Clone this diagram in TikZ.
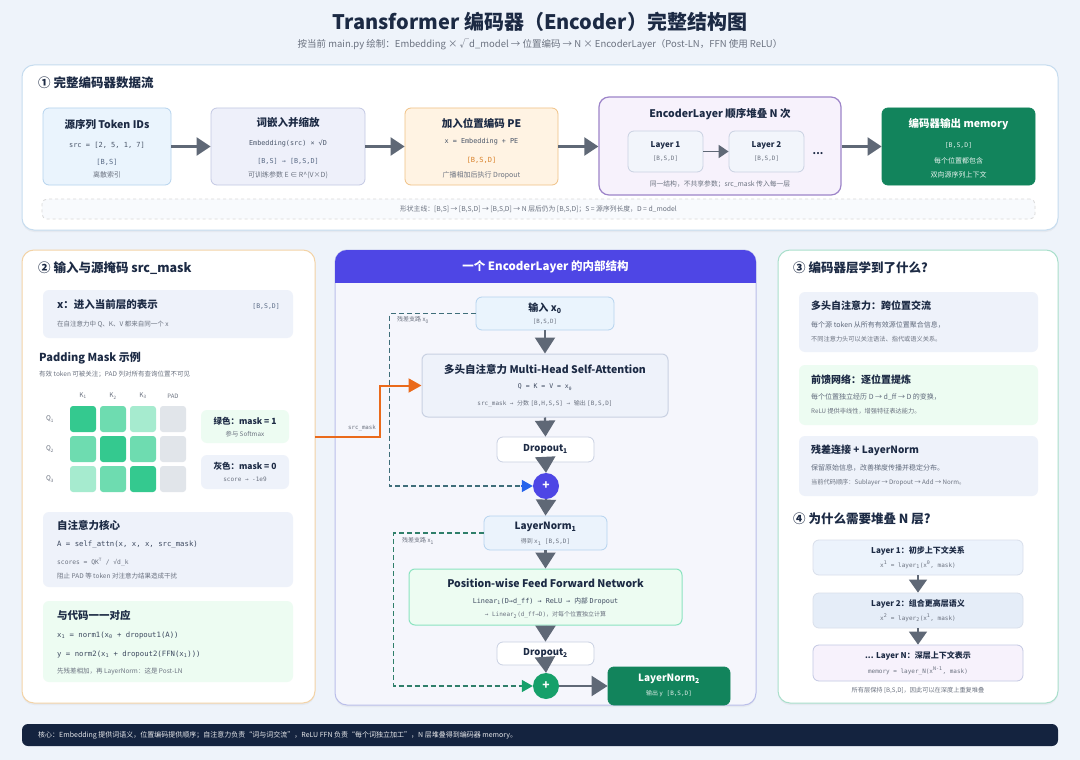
\documentclass[tikz,border=0pt]{standalone}
\usepackage{fontspec}
\setmainfont{Noto Sans CJK SC}
\setmonofont{DejaVu Sans Mono}
\usetikzlibrary{arrows.meta,shadows}
\definecolor{bg}{HTML}{EEF3FA}
\definecolor{navy}{HTML}{1C2A44}
\definecolor{tgray}{HTML}{6B7280}
\definecolor{agray}{HTML}{5F6876}
\definecolor{p1bd}{HTML}{C6DCEF}
\definecolor{b1f}{HTML}{EAF4FD}\definecolor{b1d}{HTML}{B5D3EE}
\definecolor{b2f}{HTML}{EEF0FA}\definecolor{b2d}{HTML}{C3C8E3}
\definecolor{b3f}{HTML}{FFF3E3}\definecolor{b3d}{HTML}{F0C185}
\definecolor{b4f}{HTML}{F7F2FC}\definecolor{b4d}{HTML}{9D84C9}
\definecolor{lyf}{HTML}{F2F5FB}\definecolor{lyd}{HTML}{C9D1E2}
\definecolor{gdark}{HTML}{12845C}
\definecolor{lpbd}{HTML}{F3D3A6}
\definecolor{rpbd}{HTML}{A9DFCB}
\definecolor{indigo}{HTML}{4E46E5}
\definecolor{orng}{HTML}{EA6A1B}
\definecolor{cbf}{HTML}{EEF2FA}
\definecolor{cgf}{HTML}{EDFCF2}
\definecolor{gd}{HTML}{34C98F}\definecolor{gm}{HTML}{6EDCB0}\definecolor{gl}{HTML}{A6EBCF}\definecolor{gg}{HTML}{E1E5EA}
\definecolor{cpf}{HTML}{F5F6FC}\definecolor{cpd}{HTML}{BABEEA}
\definecolor{res1}{HTML}{3F6E7A}\definecolor{res2}{HTML}{2F7F6A}
\definecolor{blu}{HTML}{2563EB}\definecolor{grn}{HTML}{16A06A}
\definecolor{orgtx}{HTML}{D9822B}
\definecolor{monob}{HTML}{5A6B86}
\definecolor{foot}{HTML}{14233F}
\newcommand{\fsz}[1]{\fontsize{#1}{#1}\selectfont}
\newcommand{\dn}[1]{\textsubscript{#1}}
\newcommand{\up}[1]{\textsuperscript{#1}}
\begin{document}
\begin{tikzpicture}[x=1pt,y=-1pt,
  box/.style={rounded corners=6pt, line width=0.8pt, inner sep=0pt},
  panel/.style={rounded corners=12pt, line width=1pt, fill=white, inner sep=0pt,
     drop shadow={shadow xshift=0pt,shadow yshift=-2pt,opacity=0.08}},
  tx/.style={inner sep=0pt, anchor=center, text=navy},
  arr/.style={draw=agray, line width=2.2pt, -{Triangle[length=14pt,width=18pt]}},
  varr/.style={draw=agray, line width=2.2pt, -{Triangle[length=16pt,width=20pt]}},
  sarr/.style={draw=agray, line width=1.8pt, -{Triangle[length=10pt,width=13pt]}},
  cell/.style={rounded corners=3pt, minimum size=26pt, inner sep=0pt},
]
\fill[bg] (0,0) rectangle (1080,760);
\useasboundingbox (0,0) rectangle (1080,760);

% ---------- title ----------
\node[tx, font=\fsz{20}\bfseries] (title) at (540,22) {Transformer 编码器（Encoder）完整结构图};
\node[tx, text=tgray, font=\fsz{9.5}] (subtitle) at (540,45) {按当前 main.py 绘制：Embedding × √d\_model → 位置编码 → N × EncoderLayer（Post-LN，FFN 使用 ReLU）};

% ---------- section 1 ----------
\node[panel, draw=p1bd, minimum width=1036pt, minimum height=165pt] (p1) at (540,147.5) {};
\node[tx, anchor=west, font=\fsz{12.5}\bfseries] (p1t) at (38,83) {① 完整编码器数据流};

\node[box, fill=b1f, draw=b1d, minimum width=128pt, minimum height=77pt] (b1) at (107,146.5) {};
\node[tx, font=\fsz{10.5}\bfseries] (b1t) at (107,125) {源序列 Token IDs};
\node[tx, font=\fsz{7}\ttfamily, text=navy!80] (b1a) at (107,145) {src = [2, 5, 1, 7]};
\node[tx, font=\fsz{7}\ttfamily, text=monob] (b1b) at (107,162) {[B,S]};
\node[tx, font=\fsz{7}, text=tgray] (b1c) at (107,175) {离散索引};

\node[box, fill=b2f, draw=b2d, minimum width=154pt, minimum height=77pt] (b2) at (288,146.5) {};
\node[tx, font=\fsz{10.5}\bfseries] (b2t) at (288,123) {词嵌入并缩放};
\node[tx, font=\fsz{6.8}\ttfamily, text=navy!80] (b2a) at (288,143) {Embedding(src) × √D};
\node[tx, font=\fsz{6.8}\ttfamily, text=monob] (b2b) at (288,161) {[B,S] → [B,S,D]};
\node[tx, font=\fsz{7}, text=tgray] (b2c) at (288,175) {可训练参数 E ∈ R\^{}(V×D)};

\node[box, fill=b3f, draw=b3d, minimum width=153pt, minimum height=77pt] (b3) at (481.5,146.5) {};
\node[tx, font=\fsz{10.5}\bfseries] (b3t) at (481.5,123) {加入位置编码 PE};
\node[tx, font=\fsz{6.8}\ttfamily, text=navy!80] (b3a) at (481.5,142) {x = Embedding + PE};
\node[tx, font=\fsz{7}\ttfamily, text=orgtx] (b3b) at (481.5,160) {[B,S,D]};
\node[tx, font=\fsz{7}, text=tgray] (b3c) at (481.5,175) {广播相加后执行 Dropout};

\node[box, rounded corners=10pt, fill=b4f, draw=b4d, line width=1.2pt, minimum width=242pt, minimum height=98pt] (b4) at (720,146) {};
\node[tx, font=\fsz{10.5}\bfseries] (b4t) at (720,114) {EncoderLayer 顺序堆叠 N 次};
\node[box, fill=lyf, draw=lyd, minimum width=75pt, minimum height=41pt] (l1) at (665.5,151.5) {};
\node[tx, font=\fsz{8}\bfseries] (l1t) at (665.5,145) {Layer 1};
\node[tx, font=\fsz{6}\ttfamily, text=tgray] (l1a) at (665.5,159) {[B,S,D]};
\node[box, fill=lyf, draw=lyd, minimum width=75pt, minimum height=41pt] (l2) at (766.5,151.5) {};
\node[tx, font=\fsz{8}\bfseries] (l2t) at (766.5,145) {Layer 2};
\node[tx, font=\fsz{6}\ttfamily, text=tgray] (l2a) at (766.5,159) {[B,S,D]};
\node[tx, font=\fsz{10}\bfseries] (dots) at (818,154) {...};
\node[tx, font=\fsz{6.8}, text=tgray] (b4c) at (720,184) {同一结构，不共享参数；src\_mask 传入每一层};
\draw[sarr] (l1.east) -- (l2.west);

\node[box, fill=gdark, draw=gdark, minimum width=153pt, minimum height=77pt] (b5) at (958.5,146.5) {};
\node[tx, text=white, font=\fsz{10.5}\bfseries] (b5t) at (958.5,124) {编码器输出 memory};
\node[tx, text=white!85!gdark, font=\fsz{6.5}\ttfamily] (b5a) at (958.5,145) {[B,S,D]};
\node[tx, text=white!90!gdark, font=\fsz{7}] (b5b) at (958.5,161) {每个位置都包含};
\node[tx, text=white!90!gdark, font=\fsz{7}] (b5c) at (958.5,175) {双向源序列上下文};

\draw[arr] (b1.east) -- (b2.west);
\draw[arr] (b2.east) -- (b3.west);
\draw[arr] (b3.east) -- (b4.west |- b3.east);
\draw[arr] (b4.east |- b5.west) -- (b5.west);

\node[box, rounded corners=5pt, draw=gray!30, dashed, fill=white!60!bg, minimum width=993pt, minimum height=20pt] (shape) at (538.5,209) {};
\node[tx, text=tgray, font=\fsz{6.8}] (shapet) at (538.5,209) {形状主线：[B,S] → [B,S,D] → [B,S,D] → N 层后仍为 [B,S,D]；S = 源序列长度，D = d\_model};

% ---------- left panel ----------
\node[panel, draw=lpbd, minimum width=293pt, minimum height=453pt] (lp) at (168.5,476.5) {};
\node[tx, anchor=west, font=\fsz{12.5}\bfseries] (lpt) at (38,268) {② 输入与源掩码 src\_mask};

\node[box, fill=cbf, draw=none, minimum width=250pt, minimum height=48pt] (xb) at (168,314) {};
\node[tx, anchor=west, font=\fsz{10.5}\bfseries] (xbt) at (57,305) {x：进入当前层的表示};
\node[tx, anchor=east, font=\fsz{6.5}\ttfamily, text=monob] (xbs) at (280,306) {[B,S,D]};
\node[tx, anchor=west, font=\fsz{6.5}, text=tgray] (xbc) at (57,324) {在自注意力中 Q、K、V 都来自同一个 x};

\node[tx, anchor=west, font=\fsz{11}\bfseries] (pmt) at (39,358) {Padding Mask 示例};
\node[tx, anchor=west, font=\fsz{6.5}, text=tgray] (pmc) at (39,374) {有效 token 可被关注；PAD 列对所有查询位置不可见};

\node[tx, text=tgray, font=\fsz{6.5}] (k1) at (83,396) {K\dn{1}};
\node[tx, text=tgray, font=\fsz{6.5}] (k2) at (113,396) {K\dn{2}};
\node[tx, text=tgray, font=\fsz{6.5}] (k3) at (143,396) {K\dn{3}};
\node[tx, text=tgray, font=\fsz{6}] (k4) at (173,396) {PAD};
\node[tx, text=tgray, font=\fsz{6.5}] (q1) at (50,419) {Q\dn{1}};
\node[tx, text=tgray, font=\fsz{6.5}] (q2) at (50,449) {Q\dn{2}};
\node[tx, text=tgray, font=\fsz{6.5}] (q3) at (50,479) {Q\dn{3}};
\node[cell, fill=gd] (c11) at (83,419) {};
\node[cell, fill=gm] (c12) at (113,419) {};
\node[cell, fill=gl] (c13) at (143,419) {};
\node[cell, fill=gg] (c14) at (173,419) {};
\node[cell, fill=gm] (c21) at (83,449) {};
\node[cell, fill=gd] (c22) at (113,449) {};
\node[cell, fill=gm] (c23) at (143,449) {};
\node[cell, fill=gg] (c24) at (173,449) {};
\node[cell, fill=gl] (c31) at (83,479) {};
\node[cell, fill=gm] (c32) at (113,479) {};
\node[cell, fill=gd] (c33) at (143,479) {};
\node[cell, fill=gg] (c34) at (173,479) {};

\node[box, fill=cgf, draw=none, minimum width=88pt, minimum height=33pt] (lg1) at (245,426.5) {};
\node[tx, font=\fsz{8.5}\bfseries] (lg1t) at (245,421) {绿色：mask = 1};
\node[tx, font=\fsz{6.3}, text=tgray] (lg1c) at (245,434) {参与 Softmax};
\node[box, fill=cbf, draw=none, minimum width=88pt, minimum height=34pt] (lg2) at (245,472) {};
\node[tx, font=\fsz{8.5}\bfseries] (lg2t) at (245,466) {灰色：mask = 0};
\node[tx, font=\fsz{6}\ttfamily, text=tgray] (lg2c) at (245,479) {score → -1e9};

\node[box, fill=cbf, draw=none, minimum width=250pt, minimum height=75pt] (sa) at (168,549.5) {};
\node[tx, anchor=west, font=\fsz{10.5}\bfseries] (sat) at (57,525) {自注意力核心};
\node[tx, anchor=west, font=\fsz{7.3}\ttfamily, text=navy!85] (saa) at (57,545) {A = self\_attn(x, x, x, src\_mask)};
\node[tx, anchor=west, font=\fsz{6.3}\ttfamily, text=tgray] (sab) at (57,562) {scores = QK\up{T} / √d\_k};
\node[tx, anchor=west, font=\fsz{6.5}, text=tgray] (sac) at (57,576) {阻止 PAD 等 token 对注意力结果造成干扰};

\node[box, fill=cgf, draw=none, minimum width=250pt, minimum height=81pt] (cd) at (168,641.5) {};
\node[tx, anchor=west, font=\fsz{10.5}\bfseries] (cdt) at (57,615) {与代码一一对应};
\node[tx, anchor=west, font=\fsz{7.3}\ttfamily, text=navy!85] (cda) at (57,635) {x\dn{1} = norm1(x\dn{0} + dropout1(A))};
\node[tx, anchor=west, font=\fsz{7.3}\ttfamily, text=navy!85] (cdb) at (57,654) {y = norm2(x\dn{1} + dropout2(FFN(x\dn{1})))};
\node[tx, anchor=west, font=\fsz{6.5}, text=tgray] (cdc) at (57,672) {先残差相加，再 LayerNorm：这是 Post-LN};

% ---------- center panel ----------
\node[panel, draw=cpd, fill=cpf, minimum width=421pt, minimum height=455pt] (cp) at (545.5,477.5) {};
\begin{scope}
\clip[rounded corners=12pt] (335,250) rectangle (756,705);
\fill[indigo] (335,250) rectangle (756,283);
\end{scope}
\node[tx, text=white, font=\fsz{11.5}\bfseries] (cpt) at (545.5,267) {一个 EncoderLayer 的内部结构};

\node[box, fill=b1f, draw=b1d, minimum width=138pt, minimum height=33pt] (in) at (545,313.5) {};
\node[tx, font=\fsz{10}\bfseries] (int) at (545,308) {输入 x\dn{0}};
\node[tx, font=\fsz{5.8}\ttfamily, text=tgray] (ina) at (545,322) {[B,S,D]};

\node[box, fill=cbf, draw=lyd, line width=1pt, minimum width=246pt, minimum height=63pt] (mh) at (545,385.5) {};
\node[tx, font=\fsz{10.5}\bfseries] (mht) at (545,369) {多头自注意力 Multi-Head Self-Attention};
\node[tx, font=\fsz{6.5}\ttfamily, text=navy!85] (mha) at (545,387) {Q = K = V = x\dn{0}};
\node[tx, font=\fsz{6}, text=tgray] (mhb) at (545,404) {\ttfamily src\_mask → \rmfamily 分数 \ttfamily [B,H,S,S] → \rmfamily 输出 \ttfamily [B,S,D]};

\node[box, fill=white, draw=lyd, minimum width=97pt, minimum height=25pt] (d1) at (545.5,449.5) {};
\node[tx, font=\fsz{9.5}\bfseries] (d1t) at (545.5,449) {Dropout\dn{1}};

\node[circle, fill=indigo, minimum size=26pt, inner sep=0pt, text=white, font=\fsz{12}\bfseries] (plus1) at (546,486) {+};

\node[box, fill=b1f!70!cbf, draw=b1d, minimum width=123pt, minimum height=34pt] (ln1) at (545.5,533) {};
\node[tx, font=\fsz{10}\bfseries] (ln1t) at (545.5,527) {LayerNorm\dn{1}};
\node[tx, font=\fsz{6}, text=tgray] (ln1a) at (545.5,542) {得到 \ttfamily x\dn{1} [B,S,D]};

\node[box, fill=cgf, draw=gm!80, line width=1pt, minimum width=273pt, minimum height=56pt] (ffn) at (545.5,597) {};
\node[tx, font=\fsz{10.5}\bfseries] (ffnt) at (545.5,583) {Position-wise Feed Forward Network};
\node[tx, font=\fsz{6.8}\ttfamily, text=navy!85] (ffna) at (545.5,601) {Linear\dn{1}(D→d\_ff) → ReLU → \rmfamily 内部 \ttfamily Dropout};
\node[tx, font=\fsz{6}, text=tgray] (ffnb) at (545.5,615) {\ttfamily → Linear\dn{2}(d\_ff→D)\rmfamily ，对每个位置独立计算};

\node[box, fill=white, draw=lyd, minimum width=97pt, minimum height=23pt] (d2) at (545.5,653.5) {};
\node[tx, font=\fsz{9.5}\bfseries] (d2t) at (545.5,653) {Dropout\dn{2}};

\node[circle, fill=grn, minimum size=26pt, inner sep=0pt, text=white, font=\fsz{12}\bfseries] (plus2) at (546,686) {+};

\node[box, fill=gdark, draw=gdark, minimum width=122pt, minimum height=38pt] (ln2) at (669,686) {};
\node[tx, text=white, font=\fsz{10}\bfseries] (ln2t) at (669,679) {LayerNorm\dn{2}};
\node[tx, text=white!85!gdark, font=\fsz{6}] (ln2a) at (669,694) {输出 \ttfamily y [B,S,D]};

\draw[varr] (in.south) -- (mh.north);
\draw[varr] (mh.south) -- (d1.north);
\draw[varr] (d1.south) -- (plus1.north);
\draw[varr] (plus1.south) -- (ln1.north);
\draw[varr] (ln1.south) -- (ffn.north);
\draw[varr] (ffn.south) -- (d2.north);
\draw[varr] (d2.south) -- (plus2.north);
\draw[varr] (plus2.east) -- (ln2.west);

\draw[res1, line width=1.5pt, dash pattern=on 5pt off 3pt] (in.west) -- ++(-86,0) |- ([xshift=-11pt]plus1.west);
\draw[blu, line width=1.5pt, -{Triangle[length=11pt,width=12pt]}] ([xshift=-12pt]plus1.west) -- (plus1.west);
\node[tx, anchor=west, text=tgray, font=\fsz{6}] (r1l) at (397,320) {残差支路 x\dn{0}};

\draw[res2, line width=1.5pt, dash pattern=on 5pt off 3pt] (ln1.west) -- ++(-90,0) |- ([xshift=-11pt]plus2.west);
\draw[grn, line width=1.5pt, -{Triangle[length=11pt,width=12pt]}] ([xshift=-12pt]plus2.west) -- (plus2.west);
\node[tx, anchor=west, text=tgray, font=\fsz{6}] (r2l) at (402,541) {残差支路 x\dn{1}};

\coordinate (mstart) at (315,437);
\draw[orng, line width=2pt, -{Triangle[length=13pt,width=14pt]}] (mstart) -- (380,437) |- (mh.west);
\node[tx, text=tgray, font=\fsz{5.8}\ttfamily] (ml) at (362,428) {src\_mask};

% ---------- right panel ----------
\node[panel, draw=rpbd, minimum width=280pt, minimum height=453pt] (rp) at (918,476.5) {};
\node[tx, anchor=west, font=\fsz{12.5}\bfseries] (rpt) at (793,268) {③ 编码器层学到了什么?};

\node[box, fill=cbf, draw=none, minimum width=239pt, minimum height=60pt] (r1) at (918.5,322) {};
\node[tx, anchor=west, font=\fsz{10}\bfseries] (r1t) at (811,306) {多头自注意力：跨位置交流};
\node[tx, anchor=west, font=\fsz{7}, text=navy!70] (r1a) at (811,325) {每个源 token 从所有有效源位置聚合信息，};
\node[tx, anchor=west, font=\fsz{6.2}, text=tgray] (r1b) at (811,339) {不同注意力头可以关注语法、指代或语义关系。};

\node[box, fill=cgf, draw=none, minimum width=239pt, minimum height=60pt] (r2) at (918.5,395) {};
\node[tx, anchor=west, font=\fsz{10}\bfseries] (r2t) at (811,380) {前馈网络：逐位置提炼};
\node[tx, anchor=west, font=\fsz{7}, text=navy!70] (r2a) at (811,397) {每个位置独立经历 D → d\_ff → D 的变换，};
\node[tx, anchor=west, font=\fsz{6.2}, text=tgray] (r2b) at (811,411) {ReLU 提供非线性，增强特征表达能力。};

\node[box, fill=cbf, draw=none, minimum width=239pt, minimum height=60pt] (r3) at (918.5,466) {};
\node[tx, anchor=west, font=\fsz{10}\bfseries] (r3t) at (811,450) {残差连接 + LayerNorm};
\node[tx, anchor=west, font=\fsz{7}, text=navy!70] (r3a) at (811,468) {保留原始信息，改善梯度传播并稳定分布。};
\node[tx, anchor=west, font=\fsz{6.2}, text=tgray] (r3b) at (811,483) {当前代码顺序：Sublayer → Dropout → Add → Norm。};

\node[tx, anchor=west, font=\fsz{12.5}\bfseries] (rpt2) at (793,519) {④ 为什么需要堆叠 N 层?};

\node[box, fill=b1f!60!cbf, draw=lyd!70, minimum width=210pt, minimum height=35pt] (s1) at (918,557.5) {};
\node[tx, font=\fsz{8}\bfseries] (s1t) at (918,551) {Layer 1：初步上下文关系};
\node[tx, font=\fsz{6}\ttfamily, text=tgray] (s1a) at (918,565) {x\up{1} = layer\dn{1}(x\up{0}, mask)};
\node[box, fill=cbf!85!b1d, draw=lyd!70, minimum width=210pt, minimum height=35pt] (s2) at (918,610.5) {};
\node[tx, font=\fsz{8}\bfseries] (s2t) at (918,604) {Layer 2：组合更高层语义};
\node[tx, font=\fsz{6}\ttfamily, text=tgray] (s2a) at (918,618) {x\up{2} = layer\dn{2}(x\up{1}, mask)};
\node[box, fill=b4f, draw=b2d, minimum width=210pt, minimum height=36pt] (s3) at (918,663) {};
\node[tx, font=\fsz{8}\bfseries] (s3t) at (918,656) {... Layer N：深层上下文表示};
\node[tx, font=\fsz{6}\ttfamily, text=tgray] (s3a) at (918,671) {memory = layer\_N(x\up{N-1}, mask)};
\draw[draw=agray, line width=1.5pt, -{Triangle[length=13pt,width=18pt]}] (s1.south) -- (s2.north);
\draw[draw=agray, line width=1.5pt, -{Triangle[length=13pt,width=18pt]}] (s2.south) -- (s3.north);
\node[tx, font=\fsz{6.2}, text=tgray] (sc) at (918,690) {所有层保持 [B,S,D]，因此可以在深度上重复堆叠};

% ---------- footer ----------
\node[box, fill=foot, draw=none, minimum width=1036pt, minimum height=22pt] (ft) at (540,735) {};
\node[tx, anchor=west, text=white!90!foot, font=\fsz{7}] (ftt) at (38,735) {核心：Embedding 提供词语义，位置编码提供顺序；自注意力负责“词与词交流”，ReLU FFN 负责“每个词独立加工”，N 层堆叠得到编码器 memory。};
\end{tikzpicture}
\end{document}
